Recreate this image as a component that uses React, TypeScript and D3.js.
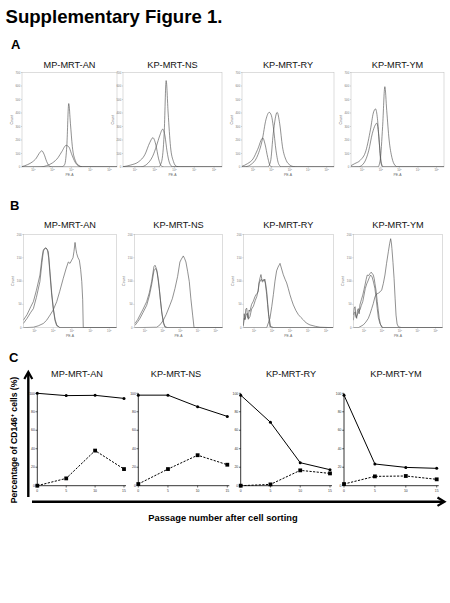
import React from 'react';
import * as d3 from 'd3';

type Pt = [number, number];

// ---------- DATA ----------
const cellLines = ["MP-MRT-AN", "KP-MRT-NS", "KP-MRT-RY", "KP-MRT-YM"];
const yTicksA = [0, 100, 200, 300, 400, 500, 600, 700];
const yTicksB = [0, 50, 100, 150, 200];
const decadeTicks = [1, 2, 3, 4, 5];
const passages = [0, 5, 10, 15];
const pctTicks = [0, 20, 40, 60, 80, 100];

// Panel A histograms: [log10 PE-A, count]
const A_AN: Pt[][] = [
  [[0.4,3],[0.7,18],[0.95,38],[1.15,65],[1.3,100],[1.44,120],[1.56,95],[1.7,40],[1.85,6],[2.0,0],[5.4,0]],
  [[0.4,0],[1.4,1],[1.7,10],[2.0,30],[2.3,70],[2.5,115],[2.72,160],[2.87,148],[3.0,100],[3.2,35],[3.4,6],[3.6,1],[5.4,0]],
  [[0.4,0],[2.5,1],[2.65,20],[2.76,160],[2.86,470],[2.95,320],[3.05,150],[3.2,50],[3.4,10],[3.6,1],[5.4,0]],
];
const A_NS: Pt[][] = [
  [[0.4,2],[0.8,15],[1.2,40],[1.5,90],[1.75,180],[1.91,217],[2.05,170],[2.2,60],[2.35,5],[2.5,0],[5.4,0]],
  [[0.4,0],[1.3,1],[1.6,20],[1.9,80],[2.1,160],[2.25,230],[2.41,280],[2.52,230],[2.62,120],[2.75,30],[2.9,2],[5.4,0]],
  [[0.4,0],[2.2,1],[2.35,40],[2.48,250],[2.58,640],[2.68,400],[2.8,150],[2.95,40],[3.1,5],[3.3,0],[5.4,0]],
];
const A_RY: Pt[][] = [
  [[0.4,5],[0.7,25],[1.0,60],[1.25,130],[1.53,215],[1.65,170],[1.8,70],[1.95,5],[2.1,0],[5.4,0]],
  [[0.4,0],[0.6,2],[0.9,20],[1.2,70],[1.5,200],[1.7,350],[1.88,405],[2.0,380],[2.1,300],[2.25,120],[2.4,20],[2.55,1],[5.4,0]],
  [[0.4,0],[1.8,1],[1.95,40],[2.1,250],[2.31,405],[2.45,320],[2.6,150],[2.8,50],[3.0,15],[3.2,3],[3.4,0],[5.4,0]],
];
const A_YM: Pt[][] = [
  [[0.4,10],[0.6,25],[0.9,50],[1.2,120],[1.45,280],[1.6,400],[1.72,430],[1.82,360],[1.92,180],[2.0,40],[2.1,0],[5.4,0]],
  [[0.4,0],[0.8,1],[1.1,30],[1.35,120],[1.55,250],[1.7,310],[1.79,325],[1.88,250],[1.97,100],[2.05,20],[2.15,0],[5.4,0]],
  [[0.4,0],[1.85,1],[1.97,50],[2.1,300],[2.22,595],[2.32,420],[2.45,200],[2.6,70],[2.75,15],[2.9,1],[5.4,0]],
];

// Panel B histograms
const B_AN: Pt[][] = [
  [[0.4,16],[0.6,28],[0.8,45],[0.94,56],[1.1,80],[1.29,113],[1.4,150],[1.47,166],[1.55,170],[1.62,171],[1.68,168],[1.74,163],[1.83,120],[1.92,75],[2.01,41],[2.1,18],[2.19,6],[2.36,0],[5.4,0]],
  [[0.4,9],[0.6,20],[0.8,33],[0.94,41],[1.1,65],[1.29,99],[1.4,140],[1.47,163],[1.52,169],[1.58,171],[1.64,170],[1.69,166],[1.76,150],[1.83,113],[1.92,70],[2.01,38],[2.1,15],[2.19,4],[2.36,0],[5.4,0]],
  [[0.4,0],[0.94,1],[1.2,4],[1.47,9],[1.65,16],[1.83,27],[2.0,38],[2.19,56],[2.35,78],[2.54,106],[2.7,128],[2.81,141],[2.9,138],[2.99,145],[3.06,150],[3.11,163],[3.17,183],[3.22,168],[3.26,159],[3.33,150],[3.4,145],[3.47,125],[3.53,99],[3.58,60],[3.61,0],[5.4,0]],
];
const B_NS: Pt[][] = [
  [[0.44,9],[0.6,18],[0.72,27],[0.9,40],[1.1,56],[1.25,75],[1.38,99],[1.51,131],[1.57,134],[1.62,130],[1.67,124],[1.74,105],[1.81,84],[1.88,58],[1.95,34],[2.05,12],[2.14,2],[2.3,0],[5.4,0]],
  [[0.44,5],[0.6,13],[0.72,20],[0.9,33],[1.1,48],[1.25,68],[1.38,92],[1.51,122],[1.6,127],[1.65,124],[1.7,118],[1.77,100],[1.83,78],[1.9,52],[1.97,28],[2.05,9],[2.14,1],[2.3,0],[5.4,0]],
  [[0.4,0],[1.67,1],[1.85,6],[2.04,16],[2.2,28],[2.42,49],[2.55,62],[2.7,84],[2.85,110],[2.98,141],[3.06,147],[3.14,152],[3.17,154],[3.24,149],[3.32,141],[3.42,120],[3.51,99],[3.6,62],[3.7,27],[3.78,0],[5.4,0]],
];
const B_RY: Pt[][] = [
  [[0.4,5],[0.45,30],[0.49,18],[0.54,40],[0.59,42],[0.64,22],[0.68,20],[0.72,38],[0.77,35],[0.86,50],[0.96,57],[1.04,66],[1.11,71],[1.18,74],[1.23,78],[1.28,98],[1.33,107],[1.38,114],[1.43,104],[1.48,100],[1.55,104],[1.62,96],[1.7,71],[1.75,50],[1.81,28],[1.92,2],[2.1,0],[5.4,0]],
  [[0.4,3],[0.45,20],[0.49,17],[0.55,26],[0.62,31],[0.68,18],[0.77,24],[0.86,40],[0.96,46],[1.06,58],[1.15,67],[1.22,80],[1.28,96],[1.34,100],[1.4,104],[1.46,98],[1.52,100],[1.6,104],[1.65,92],[1.7,78],[1.76,50],[1.81,24],[1.88,2],[2.1,0],[5.4,0]],
  [[0.4,0],[1.7,0],[1.88,20],[1.98,45],[2.07,71],[2.16,100],[2.25,122],[2.33,130],[2.4,135],[2.44,138],[2.53,126],[2.62,114],[2.72,104],[2.81,96],[2.9,84],[2.99,71],[3.08,60],[3.18,49],[3.32,37],[3.46,28],[3.6,22],[3.73,17],[3.9,10],[4.1,6],[4.4,3],[4.66,1],[5.4,0]],
];
const B_YM: Pt[][] = [
  [[0.4,27],[0.45,42],[0.5,45],[0.55,25],[0.59,20],[0.64,38],[0.68,41],[0.73,30],[0.77,49],[0.85,60],[0.93,70],[1.0,82],[1.05,91],[1.12,104],[1.18,113],[1.26,112],[1.33,116],[1.39,119],[1.45,117],[1.52,113],[1.57,105],[1.61,95],[1.68,78],[1.74,56],[1.8,36],[1.85,20],[1.92,7],[1.99,1],[2.1,0],[5.4,0]],
  [[0.4,16],[0.45,30],[0.5,34],[0.56,22],[0.62,27],[0.68,33],[0.77,38],[0.85,48],[0.93,56],[1.0,70],[1.07,84],[1.15,94],[1.24,102],[1.3,108],[1.37,113],[1.45,109],[1.53,98],[1.61,84],[1.68,62],[1.74,41],[1.8,22],[1.89,9],[2.04,0],[5.4,0]],
  [[0.4,0],[0.68,0],[0.96,6],[1.1,12],[1.24,20],[1.34,30],[1.43,41],[1.52,52],[1.61,66],[1.7,72],[1.8,74],[1.9,77],[1.99,81],[2.08,95],[2.17,113],[2.26,138],[2.36,163],[2.43,180],[2.49,191],[2.53,182],[2.56,170],[2.62,140],[2.68,106],[2.74,62],[2.79,27],[2.85,8],[2.92,2],[3.11,0],[5.4,0]],
];

// Panel C: percentage of CD146+ cells
const solidAN = [100, 97.5, 97.8, 94.5];
const solidNS = [98, 98, 85.5, 75];
const solidRY = [98, 68.6, 24.9, 17.3];
const solidYM = [98, 23.5, 19.8, 18.8];
const dashedAN = [0, 7.9, 38, 18];
const dashedNS = [1.8, 18, 33, 22.7];
const dashedRY = [0, 1.4, 16.6, 13.3];
const dashedYM = [1.8, 10.1, 10.5, 6.9];

const histA = [A_AN, A_NS, A_RY, A_YM];
const histB = [B_AN, B_NS, B_RY, B_YM];
const solidC = [solidAN, solidNS, solidRY, solidYM];
const dashedC = [dashedAN, dashedNS, dashedRY, dashedYM];

// ---------- LAYOUT ----------
const framesA = [[22, 117], [123, 222], [242, 334], [351, 444]];
const framesB = [[23.3, 116.7], [134.3, 222.7], [243.3, 333.3], [353.3, 442.7]];
const framesC = [[37.3, 124], [138.3, 227.3], [240.7, 330], [344, 436.7]];
const titleXC = [77, 176, 291, 396];
const FONT = "Liberation Sans, Arial, Helvetica, sans-serif";
const logDomain: [number, number] = [0.4, 5.4];

function Histogram({ x0, x1, y0, y1, yMax, yTicks, curves, smooth, idx, title, titleY }: any) {
  const xs = d3.scaleLinear().domain(logDomain).range([x0, x1]);
  const ys = d3.scaleLinear().domain([0, yMax]).range([y1, y0]);
  const line = d3.line<Pt>().x(d => xs(d[0])).y(d => ys(d[1])).curve(smooth ? d3.curveMonotoneX : d3.curveLinear);
  const clipId = `clip-${title}-${idx}-${yMax}`;
  const tickY = y1 + 3.8;
  return (
    <g>
      <text x={(x0 + x1) / 2} y={titleY} fontSize={9.2} textAnchor="middle" fontFamily={FONT} fill="#111">{title}</text>
      <clipPath id={clipId}><rect x={x0} y={y0 - 2} width={x1 - x0} height={y1 - y0 + 2} /></clipPath>
      <rect x={x0} y={y0} width={x1 - x0} height={y1 - y0} fill="none" stroke="#bbb" strokeWidth={0.5} />
      {yTicks.map((t: number) => (
        <g key={t}>
          <line x1={x0 - 1} x2={x0} y1={ys(t)} y2={ys(t)} stroke="#999" strokeWidth={0.4} />
          <text x={x0 - 1.8} y={ys(t) + 1} fontSize={2.8} textAnchor="end" fontFamily={FONT} fill="#777">{t}</text>
        </g>
      ))}
      {decadeTicks.map(t => (
        <g key={t}>
          <line x1={xs(t)} x2={xs(t)} y1={y1} y2={y1 + 1} stroke="#999" strokeWidth={0.4} />
          <text x={xs(t)} y={tickY} fontSize={2.8} textAnchor="middle" fontFamily={FONT} fill="#777">
            10<tspan dy={-1} fontSize={2}>{t}</tspan>
          </text>
        </g>
      ))}
      <text x={(x0 + x1) / 2} y={y1 + 9} fontSize={3.4} textAnchor="middle" fontFamily={FONT} fill="#666">PE-A</text>
      <text transform={`translate(${x0 - 9.2},${(y0 + y1) / 2}) rotate(-90)`} fontSize={3.6} textAnchor="middle" fontFamily={FONT} fill="#666">Count</text>
      <g clipPath={`url(#${clipId})`}>
        {curves.map((c: Pt[], i: number) => (
          <path key={i} d={line(c) || ''} fill="none" stroke="#555" strokeWidth={0.65} />
        ))}
      </g>
    </g>
  );
}

function LinePanel({ x0, x15, solid, dashed, title, titleX }: any) {
  const xs = d3.scaleLinear().domain([0, 15]).range([x0, x15]);
  const ys = d3.scaleLinear().domain([0, 100]).range([485.7, 393.3]);
  const line = d3.line<number>().x((_, i) => xs(passages[i])).y(d => ys(d));
  return (
    <g>
      <text x={titleX} y={377.3} fontSize={9.2} textAnchor="middle" fontFamily={FONT} fill="#111">{title}</text>
      <line x1={x0} x2={x0} y1={ys(100)} y2={ys(0)} stroke="#000" strokeWidth={0.8} />
      <line x1={x0} x2={xs(15) + 2} y1={ys(0)} y2={ys(0)} stroke="#000" strokeWidth={0.8} />
      {pctTicks.map(t => (
        <g key={t}>
          <line x1={x0 - 1.8} x2={x0} y1={ys(t)} y2={ys(t)} stroke="#000" strokeWidth={0.6} />
          <text x={x0 - 2.5} y={ys(t) + 1.2} fontSize={3.4} textAnchor="end" fontFamily={FONT} fill="#333">{t}</text>
        </g>
      ))}
      {passages.map(p => (
        <g key={p}>
          <line x1={xs(p)} x2={xs(p)} y1={ys(0)} y2={ys(0) + 1.8} stroke="#000" strokeWidth={0.6} />
          <text x={xs(p)} y={ys(0) + 6.2} fontSize={3.4} textAnchor="middle" fontFamily={FONT} fill="#333">{p}</text>
        </g>
      ))}
      <path d={line(solid) || ''} fill="none" stroke="#000" strokeWidth={1} />
      <path d={line(dashed) || ''} fill="none" stroke="#000" strokeWidth={1} strokeDasharray="2.2,1.4" />
      {solid.map((v: number, i: number) => (
        <circle key={i} cx={xs(passages[i])} cy={ys(v)} r={1.5} fill="#000" />
      ))}
      {dashed.map((v: number, i: number) => (
        <rect key={i} x={xs(passages[i]) - 1.9} y={ys(v) - 1.9} width={3.8} height={3.8} fill="#000" />
      ))}
    </g>
  );
}

export default function App() {
  return (
    <svg width={450} height={603} style={{ position: 'absolute', left: 0, top: 0, background: '#fff' }} xmlns="http://www.w3.org/2000/svg">
      <rect x={0} y={0} width={450} height={603} fill="#fff" />
      <text x={5.5} y={23} fontSize={18.6} fontWeight="bold" fontFamily={FONT} fill="#000">Supplementary Figure 1.</text>
      <text x={11} y={48.7} fontSize={13} fontWeight="bold" fontFamily={FONT}>A</text>
      <text x={10} y={210} fontSize={13} fontWeight="bold" fontFamily={FONT}>B</text>
      <text x={9} y={361.7} fontSize={13} fontWeight="bold" fontFamily={FONT}>C</text>

      {cellLines.map((name, i) => (
        <Histogram key={'a' + i} idx={i} title={name} titleY={67.7}
          x0={framesA[i][0]} x1={framesA[i][1]} y0={72.5} y1={167}
          yMax={700} yTicks={yTicksA} curves={histA[i]} smooth={true} />
      ))}
      {cellLines.map((name, i) => (
        <Histogram key={'b' + i} idx={i} title={name} titleY={228.3}
          x0={framesB[i][0]} x1={framesB[i][1]} y0={234.5} y1={327.7}
          yMax={200} yTicks={yTicksB} curves={histB[i]} smooth={false} />
      ))}
      {cellLines.map((name, i) => (
        <LinePanel key={'c' + i} title={name} titleX={titleXC[i]}
          x0={framesC[i][0]} x15={framesC[i][1]} solid={solidC[i]} dashed={dashedC[i]} />
      ))}

      {/* axis arrows */}
      <line x1={28.3} x2={28.3} y1={497} y2={372.5} stroke="#000" strokeWidth={2.4} />
      <polyline points="24.3,379 28.3,372 32.3,379" fill="none" stroke="#000" strokeWidth={2.2} strokeLinejoin="miter" />
      <line x1={32} x2={444} y1={501.7} y2={501.7} stroke="#000" strokeWidth={2.4} />
      <polyline points="437.5,497.5 444.5,501.7 437.5,505.9" fill="none" stroke="#000" strokeWidth={2.2} strokeLinejoin="miter" />

      <text transform="translate(16.8,440) rotate(-90)" fontSize={8.6} fontWeight="bold" textAnchor="middle" fontFamily={FONT}>
        Percentage of CD146<tspan dy={-3} fontSize={5.5}>+</tspan><tspan dy={3}> cells (%)</tspan>
      </text>
      <text x={223} y={521} fontSize={9.3} fontWeight="bold" textAnchor="middle" fontFamily={FONT}>Passage number after cell sorting</text>
    </svg>
  );
}
